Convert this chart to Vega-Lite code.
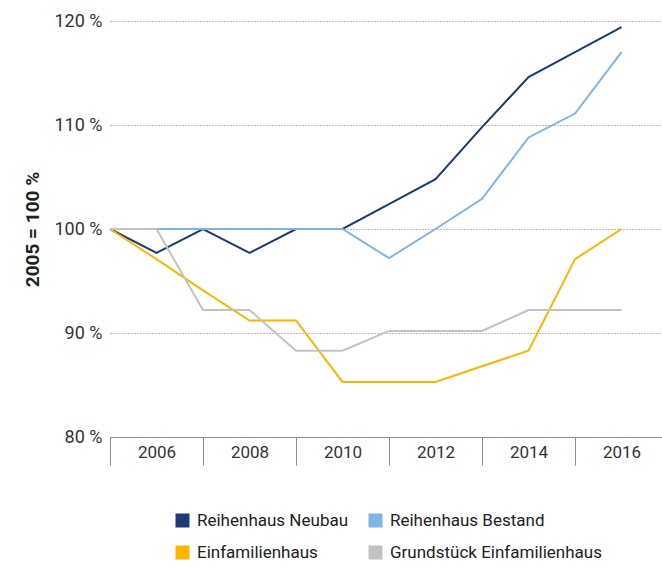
{
  "$schema": "https://vega.github.io/schema/vega-lite/v6.json",
  "width": 552,
  "height": 416,
  "autosize": "none",
  "padding": {"left": 110, "top": 21, "right": 0, "bottom": 130},
  "config": {
    "font": "Roboto",
    "view": {"stroke": null},
    "axis": {"labelFont": "Roboto", "titleFont": "Roboto", "labelColor": "#333333", "titleColor": "#222222"}
  },
  "data": {
    "values": [
      {"Jahr": 2005, "Serie": "Reihenhaus Neubau", "Wert": 100},
      {"Jahr": 2006, "Serie": "Reihenhaus Neubau", "Wert": 97.7},
      {"Jahr": 2007, "Serie": "Reihenhaus Neubau", "Wert": 100},
      {"Jahr": 2008, "Serie": "Reihenhaus Neubau", "Wert": 97.7},
      {"Jahr": 2009, "Serie": "Reihenhaus Neubau", "Wert": 100},
      {"Jahr": 2010, "Serie": "Reihenhaus Neubau", "Wert": 100},
      {"Jahr": 2011, "Serie": "Reihenhaus Neubau", "Wert": 102.4},
      {"Jahr": 2012, "Serie": "Reihenhaus Neubau", "Wert": 104.8},
      {"Jahr": 2013, "Serie": "Reihenhaus Neubau", "Wert": 109.8},
      {"Jahr": 2014, "Serie": "Reihenhaus Neubau", "Wert": 114.6},
      {"Jahr": 2015, "Serie": "Reihenhaus Neubau", "Wert": 117.0},
      {"Jahr": 2016, "Serie": "Reihenhaus Neubau", "Wert": 119.4},
      {"Jahr": 2005, "Serie": "Reihenhaus Bestand", "Wert": 100},
      {"Jahr": 2006, "Serie": "Reihenhaus Bestand", "Wert": 100},
      {"Jahr": 2007, "Serie": "Reihenhaus Bestand", "Wert": 100},
      {"Jahr": 2008, "Serie": "Reihenhaus Bestand", "Wert": 100},
      {"Jahr": 2009, "Serie": "Reihenhaus Bestand", "Wert": 100},
      {"Jahr": 2010, "Serie": "Reihenhaus Bestand", "Wert": 100},
      {"Jahr": 2011, "Serie": "Reihenhaus Bestand", "Wert": 97.2},
      {"Jahr": 2012, "Serie": "Reihenhaus Bestand", "Wert": 100},
      {"Jahr": 2013, "Serie": "Reihenhaus Bestand", "Wert": 102.9},
      {"Jahr": 2014, "Serie": "Reihenhaus Bestand", "Wert": 108.8},
      {"Jahr": 2015, "Serie": "Reihenhaus Bestand", "Wert": 111.1},
      {"Jahr": 2016, "Serie": "Reihenhaus Bestand", "Wert": 117.0},
      {"Jahr": 2005, "Serie": "Einfamilienhaus", "Wert": 100},
      {"Jahr": 2006, "Serie": "Einfamilienhaus", "Wert": 97.1},
      {"Jahr": 2007, "Serie": "Einfamilienhaus", "Wert": 94.1},
      {"Jahr": 2008, "Serie": "Einfamilienhaus", "Wert": 91.2},
      {"Jahr": 2009, "Serie": "Einfamilienhaus", "Wert": 91.2},
      {"Jahr": 2010, "Serie": "Einfamilienhaus", "Wert": 85.3},
      {"Jahr": 2011, "Serie": "Einfamilienhaus", "Wert": 85.3},
      {"Jahr": 2012, "Serie": "Einfamilienhaus", "Wert": 85.3},
      {"Jahr": 2013, "Serie": "Einfamilienhaus", "Wert": 86.8},
      {"Jahr": 2014, "Serie": "Einfamilienhaus", "Wert": 88.3},
      {"Jahr": 2015, "Serie": "Einfamilienhaus", "Wert": 97.1},
      {"Jahr": 2016, "Serie": "Einfamilienhaus", "Wert": 100},
      {"Jahr": 2005, "Serie": "Grundstück Einfamilienhaus", "Wert": 100},
      {"Jahr": 2006, "Serie": "Grundstück Einfamilienhaus", "Wert": 100},
      {"Jahr": 2007, "Serie": "Grundstück Einfamilienhaus", "Wert": 92.2},
      {"Jahr": 2008, "Serie": "Grundstück Einfamilienhaus", "Wert": 92.2},
      {"Jahr": 2009, "Serie": "Grundstück Einfamilienhaus", "Wert": 88.3},
      {"Jahr": 2010, "Serie": "Grundstück Einfamilienhaus", "Wert": 88.3},
      {"Jahr": 2011, "Serie": "Grundstück Einfamilienhaus", "Wert": 90.2},
      {"Jahr": 2012, "Serie": "Grundstück Einfamilienhaus", "Wert": 90.2},
      {"Jahr": 2013, "Serie": "Grundstück Einfamilienhaus", "Wert": 90.2},
      {"Jahr": 2014, "Serie": "Grundstück Einfamilienhaus", "Wert": 92.2},
      {"Jahr": 2015, "Serie": "Grundstück Einfamilienhaus", "Wert": 92.2},
      {"Jahr": 2016, "Serie": "Grundstück Einfamilienhaus", "Wert": 92.2}
    ]
  },
  "mark": {"type": "line", "strokeWidth": 2, "clip": false},
  "encoding": {
    "x": {
      "field": "Jahr",
      "type": "quantitative",
      "scale": {"domain": [2005, 2016.87], "nice": false, "zero": false},
      "axis": {
        "title": null,
        "values": [2005, 2006, 2007, 2008, 2009, 2010, 2011, 2012, 2013, 2014, 2015, 2016],
        "grid": false,
        "domain": true,
        "domainColor": "#8c8c8c",
        "domainWidth": 1,
        "tickColor": "#8c8c8c",
        "tickSize": 28,
        "tickOpacity": {"condition": {"test": "datum.value % 2 == 1", "value": 1}, "value": 0},
        "labelExpr": "datum.value % 2 == 0 ? '' + datum.value : ''",
        "labelFontSize": 17,
        "labelPadding": -21,
        "labelFlush": false,
        "labelOverlap": false
      }
    },
    "y": {
      "field": "Wert",
      "type": "quantitative",
      "scale": {"domain": [80, 120], "nice": false, "zero": false},
      "axis": {
        "title": "2005 = 100 %",
        "titleFontSize": 19,
        "titleFontWeight": "bold",
        "titlePadding": 12,
        "values": [80, 90, 100, 110, 120],
        "labelExpr": "datum.value + ' %'",
        "labelFontSize": 18,
        "labelPadding": 8,
        "ticks": false,
        "domain": false,
        "grid": true,
        "gridColor": "#777777",
        "gridDash": [1, 2],
        "gridWidth": 1
      }
    },
    "color": {
      "field": "Serie",
      "type": "nominal",
      "sort": ["Reihenhaus Neubau", "Reihenhaus Bestand", "Einfamilienhaus", "Grundstück Einfamilienhaus"],
      "scale": {
        "domain": ["Reihenhaus Neubau", "Reihenhaus Bestand", "Einfamilienhaus", "Grundstück Einfamilienhaus"],
        "range": ["#1c3a78", "#80b3e3", "#ffb400", "#c2c2c2"]
      },
      "legend": {
        "title": null,
        "orient": "none",
        "legendX": 64,
        "legendY": 491,
        "direction": "horizontal",
        "columns": 2,
        "gridAlign": "none",
        "symbolType": "square",
        "symbolSize": 196,
        "labelFontSize": 17,
        "labelFont": "Roboto",
        "labelColor": "#222222",
        "labelLimit": 300,
        "labelOffset": 6,
        "rowPadding": 14,
        "columnPadding": 18,
        "encode": {
          "symbols": {
            "update": {
              "fill": {"scale": "color", "field": "value"},
              "strokeWidth": {"value": 0}
            }
          }
        }
      }
    }
  }
}
